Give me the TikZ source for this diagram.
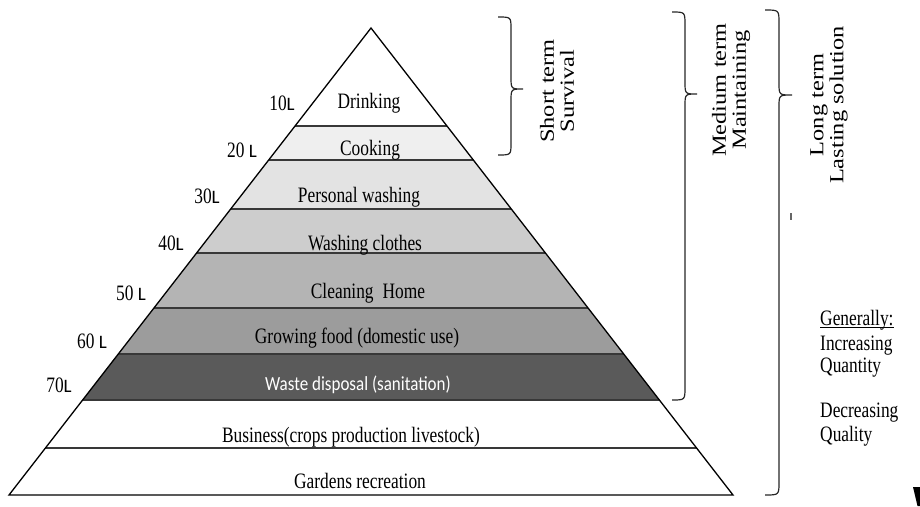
\documentclass[tikz,border=0pt]{standalone}
\usepackage{fontspec}
\setmainfont{Liberation Serif}
\newfontfamily\condf[FakeStretch=0.79]{Liberation Serif}
\newfontfamily\widef[FakeStretch=1.22]{Liberation Serif}
\newfontfamily\sansf[FakeStretch=0.85]{Carlito}
\newfontfamily\sansL{Carlito}
\definecolor{bandA}{HTML}{EFEFEF}
\definecolor{bandB}{HTML}{E3E3E3}
\definecolor{bandC}{HTML}{CDCDCD}
\definecolor{bandD}{HTML}{B4B4B4}
\definecolor{bandE}{HTML}{9C9C9C}
\definecolor{bandF}{HTML}{5A5A5A}
\definecolor{sepc}{HTML}{383838}
\tikzset{
  sepline/.style={draw=sepc, line width=2pt},
  edge/.style={draw=black, line width=1.3pt},
  lab/.style={font=\condf\fontsize{22}{24}\selectfont, inner sep=0pt, anchor=base},
  vol/.style={font=\condf\fontsize{22}{24}\selectfont, inner sep=0pt, anchor=base},
  sidelab/.style={font=\widef\fontsize{20}{20}\selectfont, inner sep=0pt, rotate=90, align=center},
  genlab/.style={font=\condf\fontsize{22}{24}\selectfont, inner sep=0pt, anchor=base west},
  brace/.style={draw=black!85, line width=1.2pt},
}
\begin{document}
\begin{tikzpicture}[x=1pt,y=-1pt]
\useasboundingbox (0,0) rectangle (920,506);
% bands
\begin{scope}
  \clip (371,28) -- (9,495) -- (733,495) -- cycle;
  \fill[bandA] (0,126) rectangle (920,160);
  \fill[bandB] (0,160) rectangle (920,209);
  \fill[bandC] (0,209) rectangle (920,253);
  \fill[bandD] (0,253) rectangle (920,308);
  \fill[bandE] (0,308) rectangle (920,354);
  \fill[bandF] (0,354) rectangle (920,400);
  \foreach \yy in {126,160,209,253,308,354,400,448}
    \draw[sepline] (0,\yy) -- (920,\yy);
\end{scope}
\draw[edge] (371,28) -- (9,495) -- (733,495) -- cycle;
% band texts
\node[lab] (drink) at (369,108) {Drinking};
\node[lab] (cook) at (370,155) {Cooking};
\node[lab] (pers) at (359,202) {Personal washing};
\node[lab] (wash) at (365,250) {Washing clothes};
\node[lab] (clean) at (368,298) {Cleaning\hspace{9pt}Home};
\node[lab] (grow) at (357,343) {Growing food (domestic use)};
\node[lab, font=\sansf\fontsize{20}{22}\selectfont, text=white] (waste) at (358,390) {Waste disposal (sanitation)};
\node[lab] (bus) at (351,442) {Business(crops production livestock)};
\node[lab] (gard) at (360,488) {Gardens recreation};
% volumes
\node[vol] (v10) at (282,110) {10{\sansL\fontsize{19}{20}\selectfont L}};
\node[vol] (v20) at (242,157) {20 {\sansL\fontsize{19}{20}\selectfont L}};
\node[vol] (v30) at (207,203) {30{\sansL\fontsize{19}{20}\selectfont L}};
\node[vol] (v40) at (171,250) {40{\sansL\fontsize{19}{20}\selectfont L}};
\node[vol] (v50) at (131,300) {50 {\sansL\fontsize{19}{20}\selectfont L}};
\node[vol] (v60) at (92,348) {60 {\sansL\fontsize{19}{20}\selectfont L}};
\node[vol] (v70) at (59,392) {70{\sansL\fontsize{19}{20}\selectfont L}};
% braces
\draw[brace] (498,17) .. controls (511,17) and (511,17) .. (511,29)
  -- (511,77) .. controls (511,89) and (511,89) .. (523,89)
  .. controls (511,89) and (511,89) .. (511,101)
  -- (511,143) .. controls (511,155) and (511,155) .. (498,155);
\draw[brace] (672,12) .. controls (685,12) and (685,12) .. (685,25)
  -- (685,82) .. controls (685,94) and (685,94) .. (697,94)
  .. controls (685,94) and (685,94) .. (685,106)
  -- (685,387) .. controls (685,400) and (685,400) .. (672,400);
\draw[brace] (765,10) .. controls (779,10) and (779,10) .. (779,23)
  -- (779,83) .. controls (779,95) and (779,95) .. (792,95)
  .. controls (779,95) and (779,95) .. (779,107)
  -- (779,482) .. controls (779,495) and (779,495) .. (765,495);
% side labels
\node[sidelab] (shortt) at (557,91) {Short term\\Survival};
\node[sidelab] (medt) at (731,90) {Medium term\\Maintaining};
\node[sidelab] (longt) at (829,105) {Long term\\Lasting solution};
% generally
\node[genlab] (gen) at (820,325) {Generally:};
\draw[line width=1pt] ([yshift=-2pt]gen.base west) -- ([yshift=-2pt]gen.base east);
\node[genlab] (inc) at (820,350) {Increasing};
\node[genlab] (qty) at (820,372) {Quantity};
\node[genlab] (dec) at (820,417) {Decreasing};
\node[genlab] (qual) at (820,441) {Quality};
% small marks
\fill[black!60] (789.5,213) rectangle (791.5,220);
\fill[black] (913,487) -- (920,487) -- (920,506) -- (917.5,506) -- cycle;
\end{tikzpicture}
\end{document}
